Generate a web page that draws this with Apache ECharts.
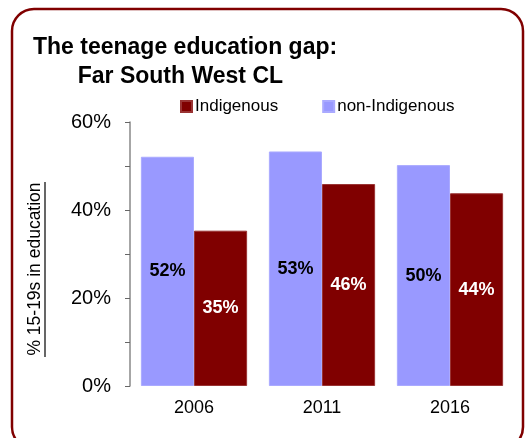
<!DOCTYPE html>
<html>
<head>
<meta charset="utf-8">
<script src="https://cdn.jsdelivr.net/npm/echarts@6/dist/echarts.min.js"></script>
<style>
  html, body { margin: 0; padding: 0; background: #fff; }
  #chart { width: 530px; height: 438px; }
</style>
</head>
<body>
<div id="chart"></div>
<script>
var years = ['2006', '2011', '2016'];
var nonIndigenous = [52.1, 53.3, 50.2];
var indigenous = [35.3, 45.9, 43.8];
var yTicks = [0, 20, 40, 60];

function pct(p) {
    return Math.round(p.value) + '%';
}

var myChart = echarts.init(document.getElementById('chart'));

var option = {
    backgroundColor: '#fff',
    animation: false,
    textStyle: { fontFamily: 'Liberation Sans' },
    graphic: [{
        type: 'rect',
        shape: { x: 12, y: 9, width: 511, height: 440, r: 22 },
        style: { fill: 'none', stroke: '#800000', lineWidth: 2.5 },
        silent: true
    }, {
        // axis title, rotated and underlined like the original
        type: 'text',
        x: 35,
        y: 269,
        rotation: Math.PI / 2,
        style: {
            text: '% 15-19s in education',
            fontFamily: 'Liberation Sans',
            fontSize: 17.5,
            fill: '#000',
            align: 'center',
            verticalAlign: 'middle'
        },
        silent: true
    }, {
        type: 'line',
        shape: { x1: 45, y1: 182, x2: 45, y2: 357 },
        style: { stroke: '#000', lineWidth: 1.2 },
        silent: true
    }],
    title: {
        text: 'The teenage education gap:\n       Far South West CL',
        left: 28,
        top: 28,
        textStyle: {
            fontFamily: 'Liberation Sans',
            fontSize: 23,
            fontWeight: 'bold',
            color: '#000',
            lineHeight: 29
        }
    },
    legend: {
        data: ['Indigenous', 'non-Indigenous'],
        left: 175,
        top: 93,
        itemWidth: 11,
        itemHeight: 11,
        itemGap: 44,
        icon: 'rect',
        textStyle: { fontFamily: 'Liberation Sans', fontSize: 17, color: '#000', padding: [0, 0, 0, -2] }
    },
    grid: { left: 130, right: 16, top: 122, bottom: 52, containLabel: false },
    xAxis: {
        type: 'category',
        data: years,
        axisLine: { show: false },
        axisTick: { show: false },
        axisLabel: { fontSize: 18, color: '#000', margin: 13 }
    },
    yAxis: {
        type: 'value',
        min: 0,
        max: 60,
        interval: 10,
        axisLine: { show: true, lineStyle: { color: '#888', width: 1.5 } },
        axisTick: { show: true, inside: false, length: 5, lineStyle: { color: '#666' } },
        splitLine: { show: false },
        axisLabel: {
            fontSize: 20,
            color: '#000',
            margin: 19,
            formatter: function (v) {
                return yTicks.indexOf(v) >= 0 ? v + '%' : '';
            }
        }
    },
    series: [{
        name: 'non-Indigenous',
        type: 'bar',
        data: nonIndigenous,
        barGap: '0%',
        barCategoryGap: '17%',
        itemStyle: { color: '#9999FF', borderColor: '#aaaaff', borderWidth: 1 },
        label: {
            show: true,
            position: 'inside',
            formatter: pct,
            fontSize: 18,
            fontWeight: 'bold',
            color: '#000'
        }
    }, {
        name: 'Indigenous',
        type: 'bar',
        data: indigenous,
        itemStyle: { color: '#800000', borderColor: '#993333', borderWidth: 1 },
        label: {
            show: true,
            position: 'inside',
            formatter: pct,
            fontSize: 18,
            fontWeight: 'bold',
            color: '#fff'
        }
    }]
};

myChart.setOption(option);
</script>
</body>
</html>
